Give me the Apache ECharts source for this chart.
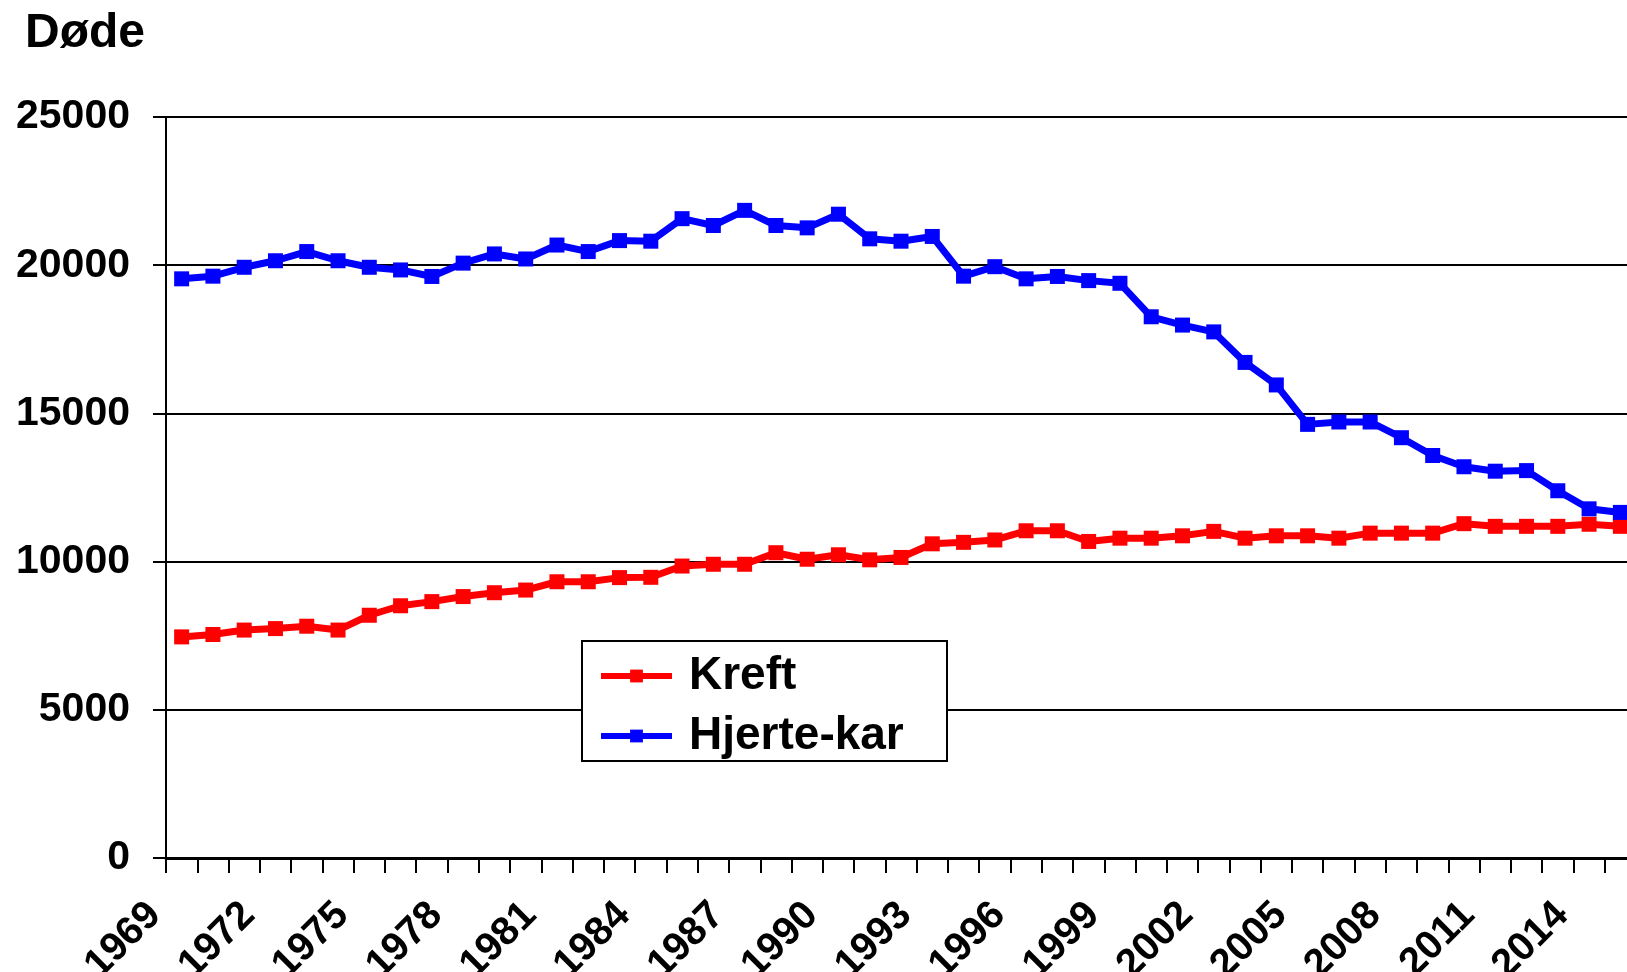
<!DOCTYPE html>
<html>
<head>
<meta charset="utf-8">
<script src="https://cdn.jsdelivr.net/npm/echarts@6/dist/echarts.min.js"></script>
<style>
html,body{margin:0;padding:0;background:#fff;}
#chart{width:1627px;height:972px;}
</style>
</head>
<body>
<div id="chart"></div>
<script>
const years = [];
for (let y = 1969; y <= 2015; y++) years.push(String(y));

const kreft = [7460, 7540, 7690, 7740, 7820, 7690, 8190, 8510, 8650, 8820, 8950, 9040, 9320,
  9320, 9460, 9470, 9850, 9910, 9910, 10300, 10080, 10230, 10060, 10140, 10600,
  10650, 10730, 11040, 11040, 10680, 10790, 10790, 10870, 11020, 10790, 10870, 10870, 10790,
  10960, 10960, 10960, 11280, 11190, 11190, 11190, 11260, 11190];

const hjerteKar = [19540, 19630, 19930, 20150, 20460, 20150, 19930, 19840, 19620, 20070, 20380, 20210, 20680,
  20460, 20830, 20810, 21570, 21340, 21850, 21340, 21260, 21720, 20890, 20810, 20970,
  19630, 19950, 19540, 19620, 19480, 19390, 18260, 17980, 17750, 16720, 15960, 14630, 14710,
  14710, 14180, 13580, 13200, 13050, 13070, 12390, 11780, 11660];

const yTicks = [0, 5000, 10000, 15000, 20000, 25000];

const FONT = '"Liberation Sans", Arial, sans-serif';
const chart = echarts.init(document.getElementById('chart'), null, {renderer: 'canvas'});

chart.setOption({
  animation: false,
  backgroundColor: '#ffffff',
  title: {
    text: 'Døde',
    left: 20,
    top: 5,
    textStyle: {fontFamily: FONT, fontWeight: 'bold', fontSize: 48, color: '#000'}
  },
  legend: {
    orient: 'vertical',
    left: 582,
    top: 641,
    padding: [11, 16, 1, 16],
    itemGap: 12,
    itemWidth: 71,
    itemHeight: 16,
    backgroundColor: '#fff',
    borderColor: '#000',
    borderWidth: 2,
    borderRadius: 0,
    lineStyle: {width: 6},
    textStyle: {fontFamily: FONT, fontWeight: 'bold', fontSize: 46, color: '#000',
      lineHeight: 48, width: 242, padding: [0, 0, 0, 12]},
    data: ['Kreft', 'Hjerte-kar']
  },
  grid: {left: 166, top: 117, width: 1470, bottom: 114, containLabel: false, outerBoundsMode: 'none'},
  xAxis: {
    type: 'category',
    data: years,
    boundaryGap: true,
    axisLine: {show: true, lineStyle: {color: '#000', width: 3}},
    axisTick: {show: true, interval: 0, length: 15, lineStyle: {color: '#000', width: 2}},
    axisLabel: {
      interval: 2, rotate: 45, margin: 24, padding: [0, 38, 0, 0],
      fontFamily: FONT, fontWeight: 'bold', fontSize: 40, color: '#000'
    },
    splitLine: {show: false}
  },
  yAxis: {
    type: 'value',
    min: yTicks[0],
    max: yTicks[yTicks.length - 1],
    interval: yTicks[1] - yTicks[0],
    axisLine: {show: true, lineStyle: {color: '#000', width: 2}},
    axisTick: {show: true, length: 13, lineStyle: {color: '#000', width: 2}},
    axisLabel: {margin: 36, fontFamily: FONT, fontWeight: 'bold', fontSize: 41, color: '#000',
      formatter: function (v) { return String(v); }},
    splitLine: {show: true, lineStyle: {color: '#000', width: 2}}
  },
  series: [
    {
      name: 'Kreft', type: 'line', data: kreft,
      symbol: 'rect', symbolSize: 15,
      lineStyle: {color: '#ff0000', width: 7},
      itemStyle: {color: '#ff0000'}
    },
    {
      name: 'Hjerte-kar', type: 'line', data: hjerteKar,
      symbol: 'rect', symbolSize: 15,
      lineStyle: {color: '#0000ff', width: 7},
      itemStyle: {color: '#0000ff'}
    }
  ]
});
</script>
</body>
</html>
